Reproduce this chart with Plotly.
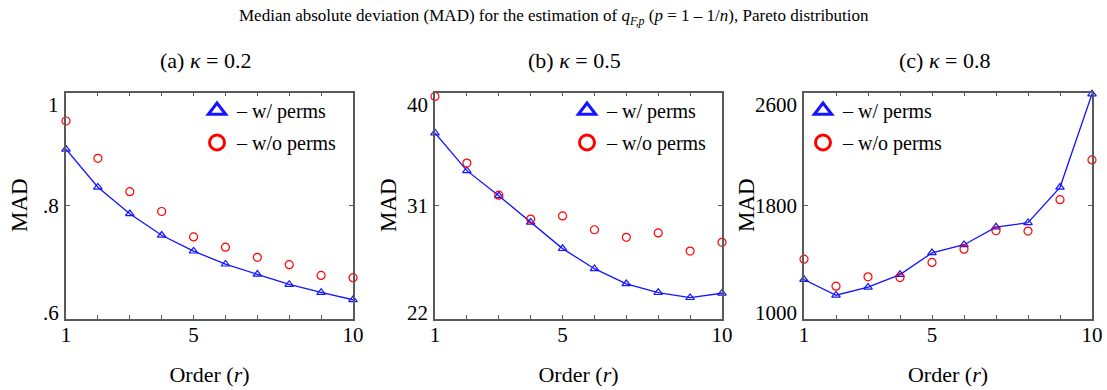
import plotly.graph_objects as go

# ---------------- data ----------------
orders = [1, 2, 3, 4, 5, 6, 7, 8, 9, 10]

mad_with_a = [0.900, 0.833, 0.786, 0.748, 0.720, 0.697, 0.679, 0.661, 0.647, 0.634]
mad_without_a = [0.950, 0.884, 0.825, 0.790, 0.745, 0.727, 0.709, 0.696, 0.677, 0.673]

mad_with_b = [36.8, 33.8, 31.8, 29.7, 27.6, 26.0, 24.8, 24.1, 23.7, 24.05]
mad_without_b = [39.7, 34.4, 31.85, 29.95, 30.2, 29.1, 28.5, 28.85, 27.4, 28.1]

mad_with_c = [1279, 1168, 1225, 1314, 1468, 1525, 1650, 1681, 1931, 2591]
mad_without_c = [1423, 1232, 1298, 1293, 1400, 1494, 1624, 1622, 1844, 2125]

panel_titles = ["(a) <i>κ</i> = 0.2", "(b) <i>κ</i> = 0.5", "(c) <i>κ</i> = 0.8"]
y_ranges = [[0.6, 1.0], [22, 40], [1000, 2600]]
y_tickvals = [[0.6, 0.8, 1.0], [22, 31, 40], [1000, 1800, 2600]]
y_ticktext = [[".6", ".8", "1"], ["22", "31", "40"], ["1000", "1800", "2600"]]
x_tickvals = [1, 5, 10]
x_ticktext = ["1", "5", "10"]
legend_names = ["– w/ perms", "– w/o perms"]

with_series = [mad_with_a, mad_with_b, mad_with_c]
without_series = [mad_without_a, mad_without_b, mad_without_c]

# ---------------- layout geometry ----------------
W, H = 1107, 390
x_px = [(66, 353), (435, 722), (804, 1092)]
mad_offset = [47, 47, 58]
y_top, y_bot = 92.7, 319
FONT = "Liberation Serif, Times New Roman, serif"
BLUE = "#1414ff"
RED = "#ff0000"
FRAME = "#5a5a5a"

fig = go.Figure()
layout = dict(
    width=W, height=H,
    margin=dict(l=0, r=0, t=0, b=0),
    paper_bgcolor="white", plot_bgcolor="white",
    font=dict(family=FONT, size=20, color="black"),
    showlegend=True,
)
annotations = []
legend_x = [(217 - 20) / W, (587 - 20) / W, (823 - 20) / W]

for i in range(3):
    xa = "x" if i == 0 else f"x{i+1}"
    ya = "y" if i == 0 else f"y{i+1}"
    lg = "legend" if i == 0 else f"legend{i+1}"
    fig.add_trace(go.Scatter(
        x=orders, y=with_series[i], mode="lines+markers",
        line=dict(color=BLUE, width=1.3),
        marker=dict(symbol="triangle-up-open", size=7.5, color=BLUE, line=dict(width=1.2)),
        xaxis=xa, yaxis=ya, showlegend=False, cliponaxis=False))
    fig.add_trace(go.Scatter(
        x=orders, y=without_series[i], mode="markers",
        marker=dict(symbol="circle-open", size=8, color=RED, line=dict(width=1.2)),
        xaxis=xa, yaxis=ya, showlegend=False, cliponaxis=False))
    # legend-only entries
    fig.add_trace(go.Scatter(
        x=[None], y=[None], mode="markers", name=legend_names[0],
        marker=dict(symbol="triangle-up-open", size=15, color=BLUE, line=dict(width=3)),
        xaxis=xa, yaxis=ya, legend=lg, legendgroup=f"g{i}a"))
    fig.add_trace(go.Scatter(
        x=[None], y=[None], mode="markers", name=legend_names[1],
        marker=dict(symbol="circle-open", size=15, color=RED, line=dict(width=3)),
        xaxis=xa, yaxis=ya, legend=lg, legendgroup=f"g{i}b"))

    x0, x1 = x_px[i]
    dom_x = [x0 / W, x1 / W]
    dom_y = [1 - y_bot / H, 1 - y_top / H]
    axis_common = dict(showline=True, linecolor=FRAME, linewidth=1.5, mirror="ticks",
                       ticks="inside", tickcolor=FRAME, ticklen=4, tickwidth=1,
                       showgrid=False, zeroline=False)
    layout["xaxis" if i == 0 else f"xaxis{i+1}"] = dict(
        domain=dom_x, range=[1, 10], tickmode="array", tickvals=x_tickvals, ticktext=x_ticktext,
        tickfont=dict(size=21), anchor=ya, ticklabelstandoff=-4,
        minor=dict(tickmode="linear", tick0=1, dtick=1, ticks="inside", ticklen=4,
                   tickcolor=FRAME, tickwidth=1, showgrid=False),
        title=dict(text="Order (<i>r</i>)", font=dict(size=22), standoff=21),
        automargin=False, **axis_common)
    layout["yaxis" if i == 0 else f"yaxis{i+1}"] = dict(
        domain=dom_y, range=y_ranges[i], tickmode="array", tickvals=y_tickvals[i],
        showticklabels=False, anchor=xa,
        automargin=False, **axis_common)
    # y tick labels (shifted inward at the ends, as in the reference)
    shifts = [6, 0, -12]
    for v, t, s in zip(y_tickvals[i], y_ticktext[i], shifts):
        annotations.append(dict(text=t, xref=f"{xa} domain", x=0, xanchor="right", xshift=-5,
                                yref=ya, y=v, yanchor="middle", yshift=s, showarrow=False,
                                font=dict(size=21)))
    # y axis title
    annotations.append(dict(text="MAD", xref="paper", x=(x0 - mad_offset[i]) / W, xanchor="center",
                            yref="paper", y=1 - 205 / H, yanchor="middle", textangle=-90,
                            showarrow=False, font=dict(size=23)))
    # panel title
    annotations.append(dict(text=panel_titles[i], xref="paper", x=(x0 + x1) / 2 / W - 4 / W,
                            yref="paper", y=1 - 60 / H, xanchor="center", yanchor="middle",
                            showarrow=False, font=dict(size=22)))
    layout[lg] = dict(x=legend_x[i], y=1 - 91 / H, xanchor="left", yanchor="top",
                      bgcolor="rgba(0,0,0,0)", borderwidth=0, font=dict(size=20),
                      itemsizing="trace", tracegroupgap=3)

annotations.append(dict(
    text="Median absolute deviation (MAD) for the estimation of <i>q</i><sub><i>F,p</i></sub> (<i>p</i> = 1 – 1/<i>n</i>), Pareto distribution",
    xref="paper", x=0.5, yref="paper", y=1 - 17 / H, xanchor="center", yanchor="middle",
    showarrow=False, font=dict(size=17)))
layout["annotations"] = annotations
fig.update_layout(**layout)
fig.write_html("out.html", config={"displayModeBar": False},
               post_script="document.body.style.margin='0';document.body.style.overflow='hidden';")
